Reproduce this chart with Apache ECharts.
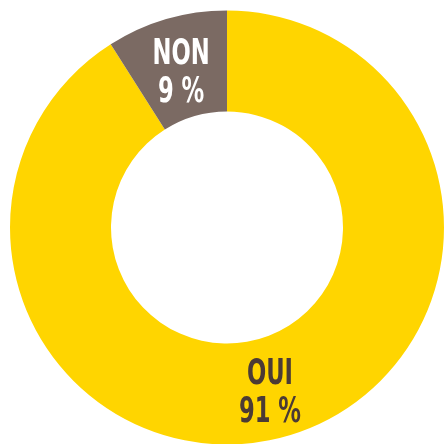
<!DOCTYPE html>
<html>
<head>
<meta charset="utf-8">
<script src="https://cdn.jsdelivr.net/npm/echarts@6/dist/echarts.min.js"></script>
<style>html,body{margin:0;padding:0;background:#fff}#c{width:444px;height:444px}</style>
</head>
<body>
<div id="c"></div>
<script>
var categories = ['OUI', 'NON'];
var values = [91, 9];
var colors = ['#FFD500', '#7B6A63'];
var labelColors = ['#4B3B35', '#FFFFFF'];
var labelShift = [[-6, 4], [2, 9]];

var chart = echarts.init(document.getElementById('c'), null, {renderer: 'canvas'});
var data = categories.map(function (name, i) {
  return {
    name: name,
    value: values[i],
    itemStyle: {color: colors[i]},
    label: {color: labelColors[i]}
  };
});
chart.setOption({
  animation: false,
  series: [{
    type: 'pie',
    center: [227, 227.5],
    radius: [116, 217],
    startAngle: 90,
    clockwise: true,
    silent: true,
    data: data,
    label: {
      show: true,
      position: 'inside',
      formatter: function (p) { return p.name + '\n' + p.value + ' %'; },
      fontFamily: '"DejaVu Sans Condensed", "DejaVu Sans", sans-serif',
      fontWeight: 'bold',
      fontSize: 35,
      lineHeight: 38,
      align: 'center'
    },
    labelLayout: function (p) {
      return {dx: labelShift[p.dataIndex][0], dy: labelShift[p.dataIndex][1]};
    },
    labelLine: {show: false}
  }]
});
// condense the label glyphs horizontally to mimic the narrow display face
var zr = chart.getZr();
zr.storage.getDisplayList(true).forEach(function (el) {
  var t = el.getTextContent && el.getTextContent();
  if (t) {
    t.scaleX = 0.72;
    t.markRedraw();
  }
});
zr.refreshImmediately();
</script>
</body>
</html>
